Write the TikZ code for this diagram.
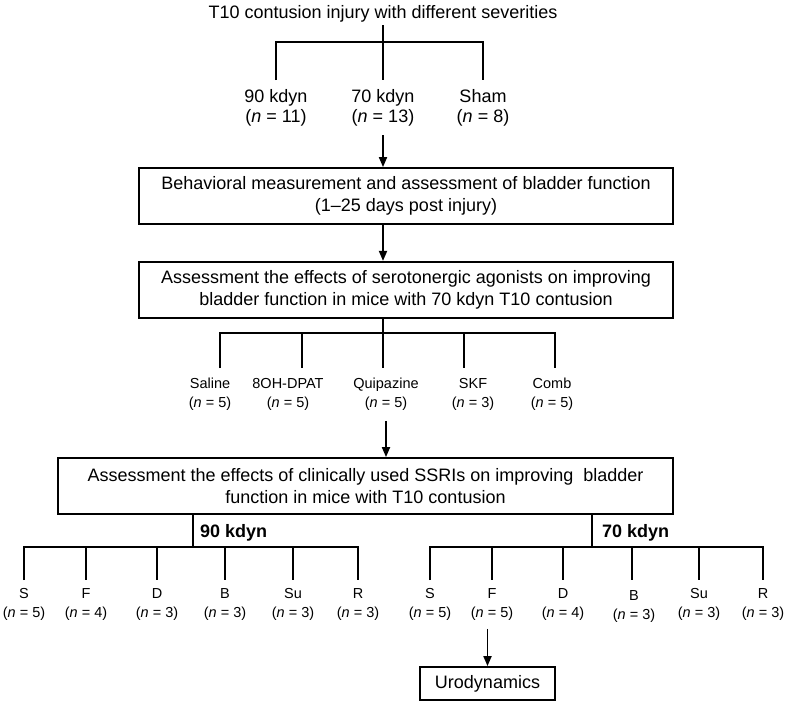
\documentclass[tikz,border=0pt]{standalone}
\usepackage{fontspec}
\setmainfont{Liberation Sans}
\usetikzlibrary{positioning,arrows.meta}

\begin{document}
\begin{tikzpicture}[x=1pt,y=-1pt,
    every node/.style={font=\fontsize{18}{21.5}\selectfont},
    stage/.style={draw,line width=1.8pt,align=center,minimum height=56pt,inner sep=2pt},
    grp/.style={align=center,inner xsep=2pt,inner ysep=9pt,font=\fontsize{18}{20}\selectfont},
    drug/.style={align=center,inner xsep=1pt,inner ysep=10pt,font=\fontsize{14.5}{19}\selectfont},
    agent/.style={drug,inner ysep=8pt,font=\fontsize{14.5}{19.5}\selectfont},
    dose/.style={anchor=base west,inner sep=0pt,font=\bfseries\fontsize{18}{21}\selectfont},
    wire/.style={line width=1.8pt},
    feed/.style={wire,-{Triangle[length=10pt,width=8pt]}}]
    \useasboundingbox (0,0) rectangle (786,702);

    \node[anchor=base] (title) at (383,18) {T10 contusion injury with different severities};
    \coordinate (top) at (383,42);
    \coordinate (g1) at (276,80);
    \coordinate (g2) at (383,80);
    \coordinate (g3) at (483,80);
    \node[grp,below=0pt of g1] (k90) {90 kdyn\\(\textit{n} = 11)};
    \node[grp,below=0pt of g2] (k70) {70 kdyn\\(\textit{n} = 13)};
    \node[grp,below=0pt of g3] (sham) {Sham\\(\textit{n} = 8)};
    \draw[wire] (title.south) -- (top);
    \draw[wire] (k90.north) |- (top) -| (sham.north);
    \draw[wire] (top) -- (k70.north);

    \node[stage,minimum width=534pt] (behav) at (406,196) {Behavioral measurement and assessment of bladder function\\(1--25 days post injury)};
    \node[stage,minimum width=534pt,below=36pt of behav] (agon) {Assessment the effects of serotonergic agonists on improving\\bladder function in mice with 70 kdyn T10 contusion};
    \draw[feed] (k70.south) -- (k70.south |- behav.north);
    \draw[feed] (behav.south -| k70) -- (agon.north -| k70);

    \coordinate (dj) at (383,333);
    \coordinate (d1) at (220,368);
    \coordinate (d2) at (302,368);
    \coordinate (d3) at (383,368);
    \coordinate (d4) at (464,368);
    \coordinate (d5) at (555,368);
    \node[drug,below=0pt of d1,xshift=-10pt] (saline) {Saline\\(\textit{n} = 5)};
    \node[drug,below=0pt of d2,xshift=-14pt] (dpat) {8OH-DPAT\\(\textit{n} = 5)};
    \node[drug,below=0pt of d3,xshift=3pt] (quip) {Quipazine\\(\textit{n} = 5)};
    \node[drug,below=0pt of d4,xshift=9pt] (skf) {SKF\\(\textit{n} = 3)};
    \node[drug,below=0pt of d5,xshift=-3pt] (comb) {Comb\\(\textit{n} = 5)};
    \draw[wire] (agon.south -| dj) -- (dj);
    \draw[wire] (d1) |- (dj) -| (d5);
    \draw[wire] (d2 |- dj) -- (d2);
    \draw[wire] (dj) -- (d3);
    \draw[wire] (d4 |- dj) -- (d4);

    \node[stage,minimum width=615pt] (ssri) at (365.5,486) {Assessment the effects of clinically used SSRIs on improving~ bladder\\function in mice with T10 contusion};
    \draw[feed] (quip.south) -- (quip.south |- ssri.north);

    \coordinate (b90) at (193,547);
    \coordinate (b70) at (592,547);
    \node[dose] (l90) at (200,537) {90 kdyn};
    \node[dose] (l70) at (602,537) {70 kdyn};
    \draw[wire] (ssri.south -| b90) -- (b90);
    \draw[wire] (ssri.south -| b70) -- (b70);

    \coordinate (a1) at (24,580);
    \coordinate (a2) at (86,580);
    \coordinate (a3) at (157,580);
    \coordinate (a4) at (225,580);
    \coordinate (a5) at (293,580);
    \coordinate (a6) at (358,580);
    \node[agent,below=0pt of a1] (s90) {S\\(\textit{n} = 5)};
    \node[agent,below=0pt of a2] (f90) {F\\(\textit{n} = 4)};
    \node[agent,below=0pt of a3] (d90) {D\\(\textit{n} = 3)};
    \node[agent,below=0pt of a4] (bu90) {B\\(\textit{n} = 3)};
    \node[agent,below=0pt of a5] (su90) {Su\\(\textit{n} = 3)};
    \node[agent,below=0pt of a6] (r90) {R\\(\textit{n} = 3)};
    \draw[wire] (a1) |- (b90) -| (a6);
    \draw[wire] (a2 |- b90) -- (a2);
    \draw[wire] (a3 |- b90) -- (a3);
    \draw[wire] (a4 |- b90) -- (a4);
    \draw[wire] (a5 |- b90) -- (a5);

    \coordinate (c1) at (430,580);
    \coordinate (c2) at (492,580);
    \coordinate (c3) at (563,580);
    \coordinate (c4) at (632,580);
    \coordinate (c5) at (699,580);
    \coordinate (c6) at (763,580);
    \node[agent,below=0pt of c1] (s70) {S\\(\textit{n} = 5)};
    \node[agent,below=0pt of c2] (f70) {F\\(\textit{n} = 5)};
    \node[agent,below=0pt of c3] (d70) {D\\(\textit{n} = 4)};
    \node[agent,below=0pt of c4,xshift=2pt,yshift=-2pt] (bu70) {B\\(\textit{n} = 3)};
    \node[agent,below=0pt of c5] (su70) {Su\\(\textit{n} = 3)};
    \node[agent,below=0pt of c6] (r70) {R\\(\textit{n} = 3)};
    \draw[wire] (c1) |- (b70) -| (c6);
    \draw[wire] (c2 |- b70) -- (c2);
    \draw[wire] (c3 |- b70) -- (c3);
    \draw[wire] (c4 |- b70) -- (c4);
    \draw[wire] (c5 |- b70) -- (c5);

    \node[stage,minimum width=135pt,minimum height=33pt] (uro) at (487.5,683.5) {Urodynamics};
    \draw[feed] (f70.south -| uro.north) -- (uro.north);
\end{tikzpicture}
\end{document}
